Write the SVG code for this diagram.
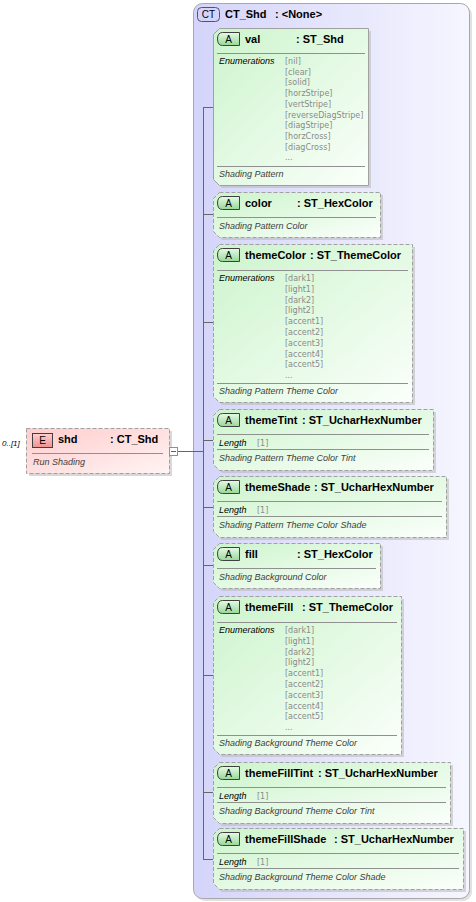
<svg xmlns="http://www.w3.org/2000/svg" width="476" height="902" viewBox="0 0 476 902">
<defs>
<linearGradient id="gCT" x1="0" y1="0" x2="1" y2="0"><stop offset="0" stop-color="#d4d4fa"/><stop offset="1" stop-color="#f6f6ff"/></linearGradient>
<linearGradient id="gA" x1="0" y1="0" x2="1" y2="1"><stop offset="0" stop-color="#ccf4cc"/><stop offset="1" stop-color="#fbfffb"/></linearGradient>
<linearGradient id="gE" x1="0" y1="0" x2="1" y2="1"><stop offset="0" stop-color="#ffcccc"/><stop offset="1" stop-color="#fff4f4"/></linearGradient>
<linearGradient id="gBA" x1="0" y1="0" x2="0" y2="1"><stop offset="0" stop-color="#e6fae6"/><stop offset="1" stop-color="#98d898"/></linearGradient>
<linearGradient id="gBE" x1="0" y1="0" x2="0" y2="1"><stop offset="0" stop-color="#ffd0d0"/><stop offset="1" stop-color="#f09090"/></linearGradient>
</defs>
<style>
text{font-family:"Liberation Sans",Arial,sans-serif}
.h{font-size:11px;font-weight:bold;fill:#000}
.b{font-size:10px;fill:#000}
.lbl{font-size:9px;font-style:italic;fill:#000}
.occ{font-size:8px;font-style:italic;fill:#000}
.en{font-family:"DejaVu Sans",Verdana,sans-serif;font-size:8px;fill:#8a8a8a}
.ds{font-size:9px;font-style:italic;fill:#404040}
.sh{fill:#b8b8b8;opacity:0.55}
.nA{fill:url(#gA);stroke:#a0a0a0;stroke-width:1;stroke-dasharray:4,2}
.nAs{fill:url(#gA);stroke:#a0a0a0;stroke-width:1}
.sep{stroke:#909090;stroke-width:1}
.bA{fill:url(#gBA);stroke:#404040;stroke-width:1}
.con{stroke:#666;stroke-width:1;fill:none}
</style>

<g id="CT_Shd">
<rect x="196" y="6" width="276" height="895" rx="9" fill="#c4c4c4" opacity="0.5"/>
<rect x="193.5" y="3.5" width="276" height="895" rx="9" fill="url(#gCT)" stroke="#a8a8a8"/>
<rect x="197.5" y="7.5" width="22" height="14" rx="4" fill="#d4d4fa" stroke="#505080"/>
<text x="208.5" y="18" class="b" text-anchor="middle">CT</text>
<text x="225" y="18" class="h">CT_Shd</text>
<text x="275" y="18" class="h">: &lt;None&gt;</text>
</g>

<g id="connectors">
<line class="con" x1="177" y1="451.5" x2="203.5" y2="451.5"/>
<line class="con" x1="203.5" y1="107" x2="203.5" y2="859"/>
<line class="con" x1="203" y1="107.5" x2="213" y2="107.5"/>
<line class="con" x1="203" y1="214.5" x2="213" y2="214.5"/>
<line class="con" x1="203" y1="322.5" x2="213" y2="322.5"/>
<line class="con" x1="203" y1="440.5" x2="213" y2="440.5"/>
<line class="con" x1="203" y1="507.5" x2="213" y2="507.5"/>
<line class="con" x1="203" y1="565.5" x2="213" y2="565.5"/>
<line class="con" x1="203" y1="675.5" x2="213" y2="675.5"/>
<line class="con" x1="203" y1="792.5" x2="213" y2="792.5"/>
<line class="con" x1="203" y1="859.5" x2="213" y2="859.5"/>
</g>

<g id="shd">
<text x="2" y="446" class="occ">0..[1]</text>
<rect x="29" y="431" width="143" height="45" class="sh"/>
<rect x="26.5" y="428.5" width="143" height="45" fill="url(#gE)" stroke="#a0a0a0" stroke-dasharray="4,2"/>
<rect x="32.5" y="433.5" width="20" height="14" fill="url(#gBE)" stroke="#404040"/>
<text x="42.5" y="444" class="b" text-anchor="middle">E</text>
<text x="58" y="443" class="h">shd</text>
<text x="110" y="443" class="h">: CT_Shd</text>
<line class="sep" x1="32" y1="453.5" x2="163" y2="453.5"/>
<text x="33" y="465" class="ds">Run Shading</text>
<rect x="169.5" y="447.5" width="8" height="8" fill="#fff" stroke="#909090"/>
<line x1="171" y1="451.5" x2="176" y2="451.5" stroke="#606060"/>
</g>

<g id="val" transform="translate(213,28)">
<path class="sh" d="M9,3H158V160H9L3,154V9Z"/>
<path class="nAs" d="M6.5,0.5H155.5V157.5H6.5L0.5,151.5V6.5Z"/>
<path class="bA" d="M9.5,4.5H26.5V17.5H9.5Q4.5,17.5 4.5,11Q4.5,4.5 9.5,4.5Z"/>
<text x="15.5" y="15" class="b" text-anchor="middle">A</text>
<text x="32" y="15" class="h">val</text>
<text x="83" y="15" class="h">: ST_Shd</text>
<line class="sep" x1="4" y1="25.5" x2="152" y2="25.5"/>
<text x="6" y="36" class="lbl">Enumerations</text>
<text x="72" y="36" class="en">[nil]</text>
<text x="72" y="46.7" class="en">[clear]</text>
<text x="72" y="57.4" class="en">[solid]</text>
<text x="72" y="68.1" class="en">[horzStripe]</text>
<text x="72" y="78.8" class="en">[vertStripe]</text>
<text x="72" y="89.5" class="en">[reverseDiagStripe]</text>
<text x="72" y="100.2" class="en">[diagStripe]</text>
<text x="72" y="110.9" class="en">[horzCross]</text>
<text x="72" y="121.6" class="en">[diagCross]</text>
<text x="72" y="132.3" class="en">...</text>
<line class="sep" x1="4" y1="138.5" x2="152" y2="138.5"/>
<text x="6" y="149" class="ds">Shading Pattern</text>
</g>

<g id="color" transform="translate(213,192)">
<path class="sh" d="M9,3H170V48H9L3,42V9Z"/>
<path class="nA" d="M6.5,0.5H167.5V45.5H6.5L0.5,39.5V6.5Z"/>
<path class="bA" d="M9.5,4.5H26.5V17.5H9.5Q4.5,17.5 4.5,11Q4.5,4.5 9.5,4.5Z"/>
<text x="15.5" y="15" class="b" text-anchor="middle">A</text>
<text x="32" y="15" class="h">color</text>
<text x="84" y="15" class="h">: ST_HexColor</text>
<line class="sep" x1="4" y1="25.5" x2="163" y2="25.5"/>
<text x="6" y="37" class="ds">Shading Pattern Color</text>
</g>

<g id="themeColor" transform="translate(213,244)">
<path class="sh" d="M9,3H202V161H9L3,155V9Z"/>
<path class="nA" d="M6.5,0.5H199.5V158.5H6.5L0.5,152.5V6.5Z"/>
<path class="bA" d="M9.5,4.5H26.5V17.5H9.5Q4.5,17.5 4.5,11Q4.5,4.5 9.5,4.5Z"/>
<text x="15.5" y="15" class="b" text-anchor="middle">A</text>
<text x="32" y="15" class="h">themeColor</text>
<text x="97" y="15" class="h">: ST_ThemeColor</text>
<line class="sep" x1="4" y1="26.5" x2="195" y2="26.5"/>
<text x="6" y="37" class="lbl">Enumerations</text>
<text x="72" y="37" class="en">[dark1]</text>
<text x="72" y="47.8" class="en">[light1]</text>
<text x="72" y="58.6" class="en">[dark2]</text>
<text x="72" y="69.4" class="en">[light2]</text>
<text x="72" y="80.2" class="en">[accent1]</text>
<text x="72" y="91" class="en">[accent2]</text>
<text x="72" y="101.8" class="en">[accent3]</text>
<text x="72" y="112.6" class="en">[accent4]</text>
<text x="72" y="123.4" class="en">[accent5]</text>
<text x="72" y="134.2" class="en">...</text>
<line class="sep" x1="4" y1="139.5" x2="195" y2="139.5"/>
<text x="6" y="150" class="ds">Shading Pattern Theme Color</text>
</g>

<g id="themeTint" transform="translate(213,409)">
<path class="sh" d="M9,3H223V64H9L3,58V9Z"/>
<path class="nA" d="M6.5,0.5H220.5V61.5H6.5L0.5,55.5V6.5Z"/>
<path class="bA" d="M9.5,4.5H26.5V17.5H9.5Q4.5,17.5 4.5,11Q4.5,4.5 9.5,4.5Z"/>
<text x="15.5" y="15" class="b" text-anchor="middle">A</text>
<text x="32" y="15" class="h">themeTint</text>
<text x="89" y="15" class="h">: ST_UcharHexNumber</text>
<line class="sep" x1="4" y1="25.5" x2="216" y2="25.5"/>
<text x="6" y="37" class="lbl">Length</text>
<text x="44" y="36.5" class="en">[1]</text>
<line class="sep" x1="4" y1="40.5" x2="216" y2="40.5"/>
<text x="6" y="52" class="ds">Shading Pattern Theme Color Tint</text>
</g>

<g id="themeShade" transform="translate(213,476)">
<path class="sh" d="M9,3H236V64H9L3,58V9Z"/>
<path class="nA" d="M6.5,0.5H233.5V61.5H6.5L0.5,55.5V6.5Z"/>
<path class="bA" d="M9.5,4.5H26.5V17.5H9.5Q4.5,17.5 4.5,11Q4.5,4.5 9.5,4.5Z"/>
<text x="15.5" y="15" class="b" text-anchor="middle">A</text>
<text x="32" y="15" class="h">themeShade</text>
<text x="101" y="15" class="h">: ST_UcharHexNumber</text>
<line class="sep" x1="4" y1="25.5" x2="229" y2="25.5"/>
<text x="6" y="37" class="lbl">Length</text>
<text x="44" y="36.5" class="en">[1]</text>
<line class="sep" x1="4" y1="40.5" x2="229" y2="40.5"/>
<text x="6" y="52" class="ds">Shading Pattern Theme Color Shade</text>
</g>

<g id="fill" transform="translate(213,543)">
<path class="sh" d="M9,3H170V48H9L3,42V9Z"/>
<path class="nA" d="M6.5,0.5H167.5V45.5H6.5L0.5,39.5V6.5Z"/>
<path class="bA" d="M9.5,4.5H26.5V17.5H9.5Q4.5,17.5 4.5,11Q4.5,4.5 9.5,4.5Z"/>
<text x="15.5" y="15" class="b" text-anchor="middle">A</text>
<text x="32" y="15" class="h">fill</text>
<text x="84" y="15" class="h">: ST_HexColor</text>
<line class="sep" x1="4" y1="25.5" x2="163" y2="25.5"/>
<text x="6" y="37" class="ds">Shading Background Color</text>
</g>

<g id="themeFill" transform="translate(213,596)">
<path class="sh" d="M9,3H191V161H9L3,155V9Z"/>
<path class="nA" d="M6.5,0.5H188.5V158.5H6.5L0.5,152.5V6.5Z"/>
<path class="bA" d="M9.5,4.5H26.5V17.5H9.5Q4.5,17.5 4.5,11Q4.5,4.5 9.5,4.5Z"/>
<text x="15.5" y="15" class="b" text-anchor="middle">A</text>
<text x="32" y="15" class="h">themeFill</text>
<text x="89" y="15" class="h">: ST_ThemeColor</text>
<line class="sep" x1="4" y1="26.5" x2="184" y2="26.5"/>
<text x="6" y="37" class="lbl">Enumerations</text>
<text x="72" y="37" class="en">[dark1]</text>
<text x="72" y="47.8" class="en">[light1]</text>
<text x="72" y="58.6" class="en">[dark2]</text>
<text x="72" y="69.4" class="en">[light2]</text>
<text x="72" y="80.2" class="en">[accent1]</text>
<text x="72" y="91" class="en">[accent2]</text>
<text x="72" y="101.8" class="en">[accent3]</text>
<text x="72" y="112.6" class="en">[accent4]</text>
<text x="72" y="123.4" class="en">[accent5]</text>
<text x="72" y="134.2" class="en">...</text>
<line class="sep" x1="4" y1="139.5" x2="184" y2="139.5"/>
<text x="6" y="150" class="ds">Shading Background Theme Color</text>
</g>

<g id="themeFillTint" transform="translate(213,762)">
<path class="sh" d="M9,3H240V64H9L3,58V9Z"/>
<path class="nA" d="M6.5,0.5H237.5V61.5H6.5L0.5,55.5V6.5Z"/>
<path class="bA" d="M9.5,4.5H26.5V17.5H9.5Q4.5,17.5 4.5,11Q4.5,4.5 9.5,4.5Z"/>
<text x="15.5" y="15" class="b" text-anchor="middle">A</text>
<text x="32" y="15" class="h">themeFillTint</text>
<text x="105" y="15" class="h">: ST_UcharHexNumber</text>
<line class="sep" x1="4" y1="25.5" x2="233" y2="25.5"/>
<text x="6" y="37" class="lbl">Length</text>
<text x="44" y="36.5" class="en">[1]</text>
<line class="sep" x1="4" y1="40.5" x2="233" y2="40.5"/>
<text x="6" y="52" class="ds">Shading Background Theme Color Tint</text>
</g>

<g id="themeFillShade" transform="translate(213,828)">
<path class="sh" d="M9,3H253V64H9L3,58V9Z"/>
<path class="nA" d="M6.5,0.5H250.5V61.5H6.5L0.5,55.5V6.5Z"/>
<path class="bA" d="M9.5,4.5H26.5V17.5H9.5Q4.5,17.5 4.5,11Q4.5,4.5 9.5,4.5Z"/>
<text x="15.5" y="15" class="b" text-anchor="middle">A</text>
<text x="32" y="15" class="h">themeFillShade</text>
<text x="121" y="15" class="h">: ST_UcharHexNumber</text>
<line class="sep" x1="4" y1="25.5" x2="246" y2="25.5"/>
<text x="6" y="37" class="lbl">Length</text>
<text x="44" y="36.5" class="en">[1]</text>
<line class="sep" x1="4" y1="40.5" x2="246" y2="40.5"/>
<text x="6" y="52" class="ds">Shading Background Theme Color Shade</text>
</g>
</svg>
